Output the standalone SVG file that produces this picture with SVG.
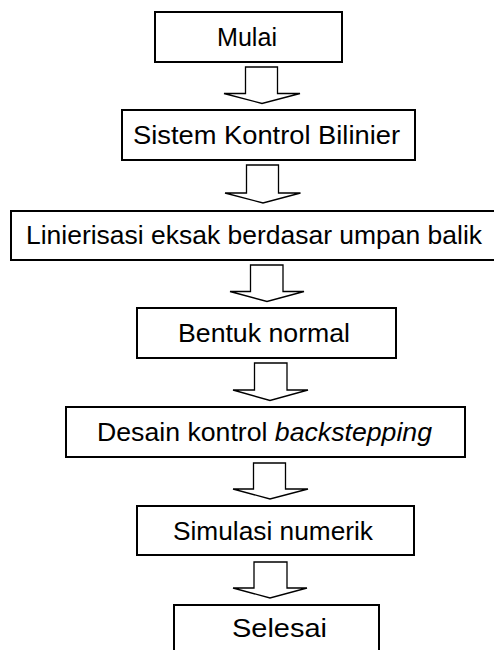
<svg xmlns="http://www.w3.org/2000/svg" width="494" height="650" viewBox="0 0 494 650">
<style>
.box{fill:#fff;stroke:#000;stroke-width:2}
.lbl{font-family:"Liberation Sans",Arial,sans-serif;font-size:25px;fill:#000}
.arr{fill:#fff;stroke:#000;stroke-width:1.3;stroke-linejoin:miter}
</style>
<rect width="494" height="650" fill="#fff"/>
<g id="connectors">
<path class="arr" d="M245.5,67 H277.5 V93.5 H300 L262,103.5 L224,93.5 H245.5 Z"/>
<path class="arr" d="M246.5,165 H278.5 V193 H300.5 L263,203 L225,193 H246.5 Z"/>
<path class="arr" d="M250.5,265 H283 V291.5 H304 L267,301.5 L230,291.5 H250.5 Z"/>
<path class="arr" d="M254.5,363 H287 V390 H308 L270,400.5 L233,390 H254.5 Z"/>
<path class="arr" d="M253.5,463 H285.5 V489 H308 L270,499 L233,489 H253.5 Z"/>
<path class="arr" d="M254,562 H287 V588 H307 L270,598 L233,588 H254 Z"/>
</g>
<g id="n1"><rect class="box" x="155" y="12" width="187" height="50"/><text class="lbl" x="217" y="46" textLength="60" lengthAdjust="spacingAndGlyphs">Mulai</text></g>
<g id="n2"><rect class="box" x="122" y="110" width="293" height="50"/><text class="lbl" x="133" y="144" textLength="267" lengthAdjust="spacingAndGlyphs">Sistem Kontrol Bilinier</text></g>
<g id="n3"><rect class="box" x="11" y="211" width="486" height="49"/><text class="lbl" x="26" y="244.3" textLength="456" lengthAdjust="spacingAndGlyphs">Linierisasi eksak berdasar umpan balik</text></g>
<g id="n4"><rect class="box" x="137" y="308" width="259" height="50"/><text class="lbl" x="178" y="342" textLength="172" lengthAdjust="spacingAndGlyphs">Bentuk normal</text></g>
<g id="n5"><rect class="box" x="66" y="407" width="399" height="50"/><text class="lbl" x="97" y="441" textLength="335" lengthAdjust="spacingAndGlyphs">Desain kontrol <tspan font-style="italic">backstepping</tspan></text></g>
<g id="n6"><rect class="box" x="137" y="506" width="277" height="49"/><text class="lbl" x="173" y="539.5" textLength="200" lengthAdjust="spacingAndGlyphs">Simulasi numerik</text></g>
<g id="n7"><rect class="box" x="174" y="605" width="205" height="50"/><text class="lbl" x="232" y="637" textLength="95" lengthAdjust="spacingAndGlyphs">Selesai</text></g>
</svg>
